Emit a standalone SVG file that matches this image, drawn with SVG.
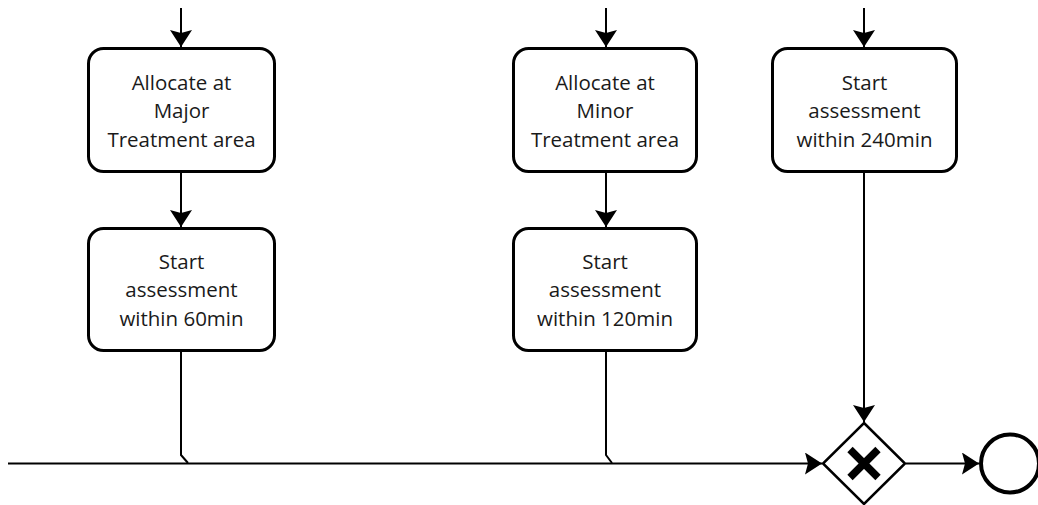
<svg xmlns="http://www.w3.org/2000/svg" width="1038" height="505" viewBox="0 0 1038 505">
  <style>
    .task { fill: #ffffff; stroke: #000000; stroke-width: 3; }
    .label { font-family: "Open Sans", "Liberation Sans", sans-serif; font-size: 20.5px; fill: #1a1a1a; text-anchor: middle; }
    .flow { fill: none; stroke: #000000; stroke-width: 2; }
    .gateway { fill: #ffffff; stroke: #000000; stroke-width: 2.5; }
    .cross { stroke: #000000; stroke-width: 7.5; }
    .end { fill: #ffffff; stroke: #000000; stroke-width: 4; }
  </style>
  <defs>
    <marker id="arrow" markerWidth="17" markerHeight="22" viewBox="0 0 17 22" refX="17" refY="11" orient="auto" markerUnits="userSpaceOnUse">
      <path d="M0,0 L17,11 L0,22 L3,11 Z" fill="#000000"/>
    </marker>
  </defs>

  <rect width="1038" height="505" fill="#ffffff"/>

  <!-- sequence flows -->
  <g id="connectors">
    <line class="flow" x1="181" y1="8" x2="181" y2="47" marker-end="url(#arrow)"/>
    <line class="flow" x1="606" y1="8" x2="606" y2="47" marker-end="url(#arrow)"/>
    <line class="flow" x1="864" y1="8" x2="864" y2="47" marker-end="url(#arrow)"/>
    <line class="flow" x1="181" y1="173" x2="181" y2="227" marker-end="url(#arrow)"/>
    <line class="flow" x1="606" y1="173" x2="606" y2="227" marker-end="url(#arrow)"/>
    <polyline class="flow" points="181,351 181,455 188,463"/>
    <polyline class="flow" points="606,351 606,455 612,463"/>
    <line class="flow" x1="864" y1="173" x2="864" y2="422" marker-end="url(#arrow)"/>
    <line class="flow" x1="8" y1="463.5" x2="822" y2="463.5" marker-end="url(#arrow)"/>
    <line class="flow" x1="906" y1="463.5" x2="979" y2="463.5" marker-end="url(#arrow)"/>
  </g>

  <g id="allocate-major">
    <rect class="task" x="88.5" y="48.5" width="186" height="123" rx="15"/>
    <text class="label"><tspan x="181.5" y="89.5">Allocate at</tspan><tspan x="181.5" y="118">Major</tspan><tspan x="181.5" y="146.5">Treatment area</tspan></text>
  </g>

  <g id="assess-60">
    <rect class="task" x="88.5" y="228.5" width="186" height="122" rx="15"/>
    <text class="label"><tspan x="181.5" y="268.5">Start</tspan><tspan x="181.5" y="297">assessment</tspan><tspan x="181.5" y="325.5">within 60min</tspan></text>
  </g>

  <g id="allocate-minor">
    <rect class="task" x="513.5" y="48.5" width="183" height="123" rx="15"/>
    <text class="label"><tspan x="605" y="89.5">Allocate at</tspan><tspan x="605" y="118">Minor</tspan><tspan x="605" y="146.5">Treatment area</tspan></text>
  </g>

  <g id="assess-120">
    <rect class="task" x="513.5" y="228.5" width="183" height="122" rx="15"/>
    <text class="label"><tspan x="605" y="268.5">Start</tspan><tspan x="605" y="297">assessment</tspan><tspan x="605" y="325.5">within 120min</tspan></text>
  </g>

  <g id="assess-240">
    <rect class="task" x="772.5" y="48.5" width="184" height="123" rx="15"/>
    <text class="label"><tspan x="864.5" y="89.5">Start</tspan><tspan x="864.5" y="118">assessment</tspan><tspan x="864.5" y="146.5">within 240min</tspan></text>
  </g>

  <!-- exclusive gateway -->
  <g id="gateway">
    <path class="gateway" d="M864,423 L905,463.5 L864,504 L823,463.5 Z"/>
    <line class="cross" x1="850" y1="449.5" x2="878" y2="477.5"/>
    <line class="cross" x1="878" y1="449.5" x2="850" y2="477.5"/>
  </g>

  <!-- end event -->
  <g id="end-event">
    <circle class="end" cx="1010" cy="463.5" r="29"/>
  </g>
</svg>
